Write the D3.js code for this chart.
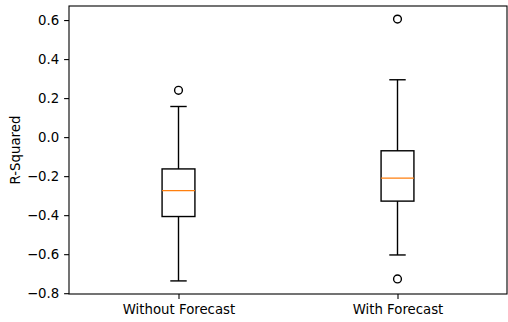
<!DOCTYPE html>
<html>
<head>
<meta charset="utf-8">
<script src="https://cdn.jsdelivr.net/npm/d3@7"></script>
<style>
  body { margin: 0; background: #fff; }
  svg { display: block; font-family: "DejaVu Sans", sans-serif; }
</style>
</head>
<body>
<svg id="chart" width="508" height="322"></svg>
<script>
// box statistics
const categories = ['Without Forecast', 'With Forecast'];
const whiskerHigh = [0.157, 0.294];
const q3 = [-0.163, -0.070];
const median = [-0.274, -0.210];
const q1 = [-0.407, -0.328];
const whiskerLow = [-0.737, -0.604];
const outliers = [[0.240], [0.605, -0.727]];
const yTicks = [-0.8, -0.6, -0.4, -0.2, 0.0, 0.2, 0.4, 0.6];

const width = 508;
const height = 322;
const margin = { top: 6, right: 1, bottom: 28, left: 69 };
const fontSize = '13.3px';
const svg = d3.select('#chart');

// matplotlib-like 5% padding around the data extent
const allVals = whiskerLow.concat(whiskerHigh, outliers.flat());
const lo = d3.min(allVals);
const hi = d3.max(allVals);
const pad = (hi - lo) * 0.05;

const x = d3.scaleLinear()
  .domain([0.5, categories.length + 0.5])
  .range([margin.left, width - margin.right]);
const y = d3.scaleLinear()
  .domain([lo - pad, hi + pad])
  .range([height - margin.bottom, margin.top]);

const boxW = x(1.15) - x(1);
const capW = boxW / 2;

const boxes = categories.map((c, i) => ({
  pos: i + 1,
  hi: whiskerHigh[i], q3: q3[i], med: median[i], q1: q1[i], lo: whiskerLow[i],
  fliers: outliers[i]
}));

const g = svg.append('g');
const bg = g.selectAll('g.box').data(boxes).enter().append('g').attr('class', 'box');

// whiskers
bg.append('line')
  .attr('x1', d => x(d.pos)).attr('x2', d => x(d.pos))
  .attr('y1', d => y(d.q3)).attr('y2', d => y(d.hi))
  .attr('stroke', '#000').attr('stroke-width', 1.4);
bg.append('line')
  .attr('x1', d => x(d.pos)).attr('x2', d => x(d.pos))
  .attr('y1', d => y(d.q1)).attr('y2', d => y(d.lo))
  .attr('stroke', '#000').attr('stroke-width', 1.4);
// caps
bg.append('line')
  .attr('x1', d => x(d.pos) - capW / 2).attr('x2', d => x(d.pos) + capW / 2)
  .attr('y1', d => y(d.hi)).attr('y2', d => y(d.hi))
  .attr('stroke', '#000').attr('stroke-width', 1.4);
bg.append('line')
  .attr('x1', d => x(d.pos) - capW / 2).attr('x2', d => x(d.pos) + capW / 2)
  .attr('y1', d => y(d.lo)).attr('y2', d => y(d.lo))
  .attr('stroke', '#000').attr('stroke-width', 1.4);
// box
bg.append('rect')
  .attr('x', d => x(d.pos) - boxW / 2)
  .attr('width', boxW)
  .attr('y', d => y(d.q3))
  .attr('height', d => y(d.q1) - y(d.q3))
  .attr('fill', 'none').attr('stroke', '#000').attr('stroke-width', 1.4);
// median
bg.append('line')
  .attr('x1', d => x(d.pos) - boxW / 2).attr('x2', d => x(d.pos) + boxW / 2)
  .attr('y1', d => y(d.med)).attr('y2', d => y(d.med))
  .attr('stroke', '#ff7f0e').attr('stroke-width', 1.4);
// fliers
bg.selectAll('circle')
  .data(d => d.fliers.map(v => ({ pos: d.pos, v })))
  .enter().append('circle')
  .attr('cx', d => x(d.pos)).attr('cy', d => y(d.v))
  .attr('r', 3.9)
  .attr('fill', 'none').attr('stroke', '#000').attr('stroke-width', 1.4);

// axes
const fmt = v => d3.format('.1f')(v).replace('-', '\u2212');
const yAxis = svg.append('g')
  .attr('transform', `translate(${margin.left},0)`)
  .call(d3.axisLeft(y).tickValues(yTicks).tickFormat(fmt).tickSizeOuter(0).tickSize(4.9).tickPadding(4.9));
const xAxis = svg.append('g')
  .attr('transform', `translate(0,${height - margin.bottom})`)
  .call(d3.axisBottom(x).tickValues(boxes.map(b => b.pos)).tickFormat((d, i) => categories[i])
    .tickSizeOuter(0).tickSize(4.9).tickPadding(5.4));

[yAxis, xAxis].forEach(a => {
  a.select('.domain').remove();
  a.selectAll('line').attr('stroke', '#000').attr('stroke-width', 1.1);
  a.selectAll('text').attr('fill', '#000').style('font-size', fontSize).style('font-family', '"DejaVu Sans", sans-serif');
});

// spines
svg.append('rect')
  .attr('x', margin.left).attr('y', margin.top)
  .attr('width', width - margin.right - margin.left)
  .attr('height', height - margin.bottom - margin.top)
  .attr('fill', 'none').attr('stroke', '#000').attr('stroke-width', 1.1);

svg.append('text')
  .attr('transform', `translate(20,${(margin.top + height - margin.bottom) / 2}) rotate(-90)`)
  .attr('text-anchor', 'middle')
  .style('font-size', fontSize)
  .text('R-Squared');
</script>
</body>
</html>
